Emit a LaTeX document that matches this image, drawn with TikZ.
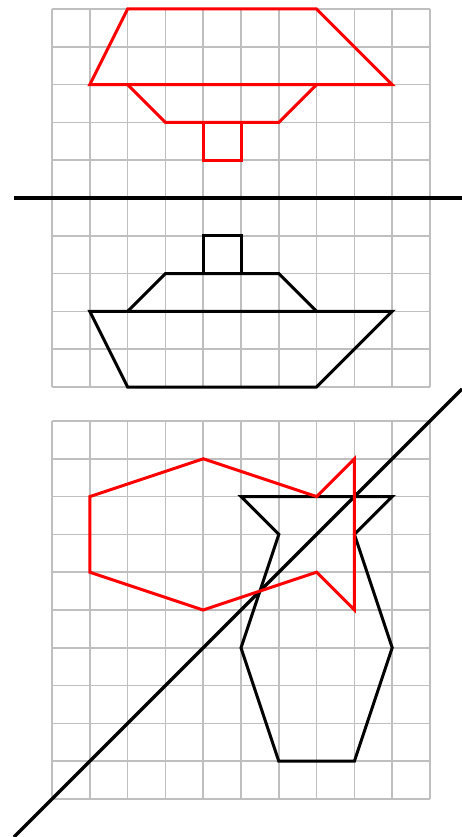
\documentclass[tikz,border=0pt]{standalone}
\begin{document}
\begin{tikzpicture}[x=1pt,y=-1pt,
  gridline/.style={draw=gray!50, line width=1.6pt},
  redshape/.style={draw=red, line width=3pt, line join=miter},
  blackshape/.style={draw=black, line width=3pt, line join=miter},
  axisline/.style={draw=black, line width=3.3pt}]
\useasboundingbox (0,0) rectangle (462,837);
% top grid
\begin{scope}[xshift=52pt, yshift=-9pt, x=37.8pt, y=-37.8pt]
  \foreach \i in {0,...,10} {
    \draw[gridline] (\i,0) -- (\i,10);
    \draw[gridline] (0,\i) -- (10,\i);
  }
  % red boat (reflected)
  \draw[redshape] (2,0) -- (7,0) -- (9,2) -- (1,2) -- cycle;
  \draw[redshape] (2,2) -- (3,3) -- (6,3) -- (7,2);
  \draw[redshape] (4,3) rectangle (5,4);
  % black boat
  \draw[blackshape] (1,8) -- (9,8) -- (7,10) -- (2,10) -- cycle;
  \draw[blackshape] (2,8) -- (3,7) -- (6,7) -- (7,8);
  \draw[blackshape] (4,6) rectangle (5,7);
\end{scope}
\coordinate (hl) at (14,198);
\coordinate (hr) at (462,198);
\draw[axisline] (hl) -- (hr);
% bottom grid
\begin{scope}[xshift=52pt, yshift=-421pt, x=37.8pt, y=-37.8pt]
  \foreach \i in {0,...,10} {
    \draw[gridline] (\i,0) -- (\i,10);
    \draw[gridline] (0,\i) -- (10,\i);
  }
  % black vase
  \draw[blackshape] (5,2) -- (9,2) -- (8,3) -- (9,6) -- (8,9) -- (6,9) -- (5,6) -- (6,3) -- cycle;
\end{scope}
\coordinate (dl) at (14,837);
\coordinate (dr) at (462,389);
\draw[axisline] (dl) -- (dr);
\begin{scope}[xshift=52pt, yshift=-421pt, x=37.8pt, y=-37.8pt]
  % red reflected vase
  \draw[redshape] (1,2) -- (4,1) -- (7,2) -- (8,1) -- (8,5) -- (7,4) -- (4,5) -- (1,4) -- cycle;
\end{scope}
\end{tikzpicture}
\end{document}
